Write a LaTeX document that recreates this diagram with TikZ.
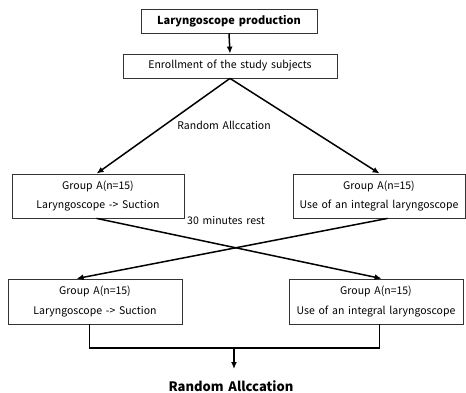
\documentclass[tikz,border=0pt]{standalone}
\usepackage{fontspec}
\setmainfont{Noto Sans CJK KR}[WordSpace={1.6}]
\usetikzlibrary{arrows.meta,calc}
\begin{document}
\begin{tikzpicture}[x=1pt,y=-1pt,
  box/.style={draw=black!80,line width=0.8pt,inner sep=0pt,align=center,font=\fontsize{10.5}{19.5}\selectfont},
  conn/.style={line width=1.5pt,-{Latex[length=7pt,width=6pt]}},
  plain/.style={line width=1.5pt}]
\useasboundingbox (0,0) rectangle (466,393);
\node[box,minimum width=176pt,minimum height=24pt,font=\bfseries\fontsize{11}{12}\selectfont] (b1) at (229,21) {Laryngoscope production};
\node[box,minimum width=214pt,minimum height=24pt] (b2) at (230,66) {Enrollment of the study subjects};
\node[box,minimum width=172pt,minimum height=44pt] (l1) at (98,196) {Group A(n=15)\\Laryngoscope -> Suction};
\node[box,minimum width=172pt,minimum height=44pt] (r1) at (379,196) {Group A(n=15)\\Use of an integral laryngoscope};
\node[box,minimum width=174pt,minimum height=45pt] (l2) at (95,301.5) {Group A(n=15)\\Laryngoscope -> Suction};
\node[box,minimum width=174pt,minimum height=45pt] (r2) at (376,301.5) {Group A(n=15)\\Use of an integral laryngoscope};
\node[font=\fontsize{10.5}{12}\selectfont] (ra) at (224,125) {Random Allccation};
\node[font=\fontsize{10.5}{12}\selectfont] (rest) at (226,220) {30 minutes rest};
\node[font=\bfseries\fontsize{13}{14}\selectfont] (rb) at (231,386) {Random Allccation};
\coordinate (l1in) at ($(l1.north west)+(85,0)$);
\coordinate (r1in) at ($(r1.north west)+(87,0)$);
\coordinate (l1out) at ($(l1.south west)+(85,0)$);
\coordinate (r1out) at ($(r1.south west)+(95,0)$);
\coordinate (l2in) at ($(l2.north west)+(69,0)$);
\coordinate (r2in) at ($(r2.north west)+(93,0)$);
\coordinate (l2out) at ($(l2.south west)+(82,0)$);
\coordinate (r2out) at ($(r2.south west)+(91,0)$);
\coordinate (join) at (234,348);
\draw[conn] (b1.south) -- (b2.north);
\draw[conn] (b2.south) -- (l1in);
\draw[conn] (b2.south) -- (r1in);
\draw[conn] (l1out) -- (r2in);
\draw[conn] (r1out) -- (l2in);
\draw[plain] (l2out) |- (join) -| (r2out);
\draw[conn] (join) -- ++(0,21);
\end{tikzpicture}
\end{document}
